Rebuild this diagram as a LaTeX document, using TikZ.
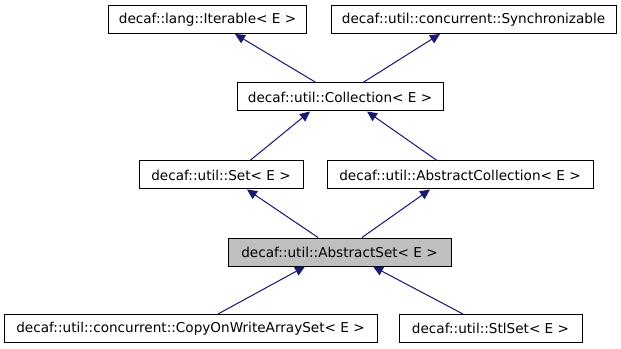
\documentclass[tikz,border=0pt]{standalone}
\RequirePackage{fontspec}
\RequirePackage{tikz}
\usetikzlibrary{calc}
\usetikzlibrary{arrows.meta}
\setmainfont{DejaVu Sans}
\definecolor{edgeblue}{RGB}{25,25,112}
\definecolor{curgray}{RGB}{191,191,191}

\begin{document}
\begin{tikzpicture}[x=0.75pt,y=-0.75pt,
                    cls/.style={draw=black,line width=0.75pt,fill=white,inner sep=0pt,
                        minimum height=21pt,font=\fontsize{10.2}{12}\selectfont},
                    inh/.style={draw=edgeblue,line width=0.75pt,
                        -{Triangle[length=7.5pt,width=7pt]},fill=edgeblue}]
                    \useasboundingbox (0,0) rectangle (621,349);
                    \node[cls,minimum width=149pt] (iter) at (207.5,19.5) {decaf::lang::Iterable< E >};
                    \node[cls,minimum width=213.75pt] (sync) at (473.5,19.5) {decaf::util::concurrent::Synchronizable};
                    \node[cls,minimum width=154.5pt] (coll) at (340,97) {decaf::util::Collection< E >};
                    \node[cls,minimum width=123pt] (set) at (221,175) {decaf::util::Set< E >};
                    \node[cls,minimum width=199.5pt] (absc) at (460,175) {decaf::util::AbstractCollection< E >};
                    \node[cls,minimum width=167.25pt,fill=curgray] (abss) at (339.5,252) {decaf::util::AbstractSet< E >};
                    \node[cls,minimum width=279.75pt] (cow) at (190.5,328.5) {decaf::util::concurrent::CopyOnWriteArraySet< E >};
                    \node[cls,minimum width=137.25pt] (stl) at (490.5,328.5) {decaf::util::StlSet< E >};
                    \draw[inh] ($(coll.north)+(-24,0)$) -- ($(iter.south)+(27.5,0)$);
                    \draw[inh] ($(coll.north)+(23,0)$) -- ($(sync.south)+(-33.5,0)$);
                    \draw[inh] ($(set.north)+(29,0)$) -- ($(coll.south)+(-30,0)$);
                    \draw[inh] ($(absc.north)+(-23,0)$) -- ($(coll.south)+(27,0)$);
                    \draw[inh] ($(abss.north)+(-21.5,0)$) -- ($(set.south)+(26,0)$);
                    \draw[inh] ($(abss.north)+(22.5,0)$) -- ($(absc.south)+(-30,0)$);
                    \draw[inh] ($(cow.north)+(27.5,0)$) -- ($(abss.south)+(-34.5,0)$);
                    \draw[inh] ($(stl.north)+(-27.5,0)$) -- ($(abss.south)+(33.5,0)$);
                \end{tikzpicture}
\end{document}
